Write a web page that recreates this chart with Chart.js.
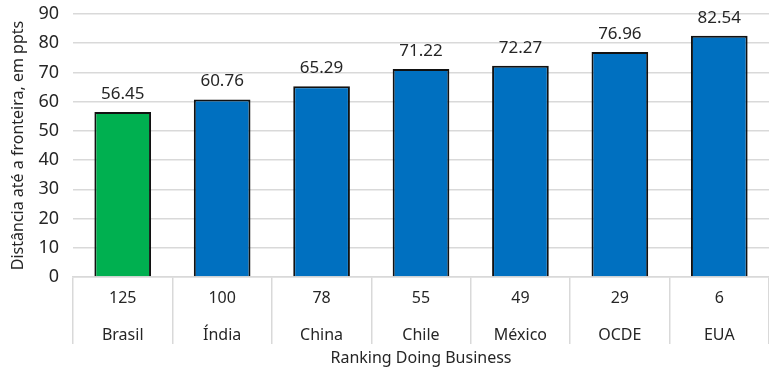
<!DOCTYPE html>
<html>
<head>
<meta charset="utf-8">
<script src="https://cdn.jsdelivr.net/npm/chart.js@4"></script>
<style>
  html, body { margin: 0; padding: 0; background: #fff; }
  #wrap { width: 769px; height: 374px; }
</style>
</head>
<body>
<div id="wrap"><canvas id="dbChart" width="769" height="374"></canvas></div>
<script>
const rankings = ["125", "100", "78", "55", "49", "29", "6"];
const countries = ["Brasil", "Índia", "China", "Chile", "México", "OCDE", "EUA"];
const scores = [56.45, 60.76, 65.29, 71.22, 72.27, 76.96, 82.54];
const barColors = ["#00B050", "#0070C0", "#0070C0", "#0070C0", "#0070C0", "#0070C0", "#0070C0"];
const yTicks = [0, 10, 20, 30, 40, 50, 60, 70, 80, 90];

const FONT = "'Noto Sans', 'DejaVu Sans', sans-serif";

// value labels above each bar
const valueLabels = {
  id: "valueLabels",
  afterDatasetsDraw(chart) {
    const ctx = chart.ctx;
    const meta = chart.getDatasetMeta(0);
    ctx.save();
    ctx.font = "17px " + FONT;
    ctx.fillStyle = "#262626";
    ctx.textAlign = "center";
    ctx.textBaseline = "middle";
    meta.data.forEach((bar, i) => {
      ctx.fillText(scores[i].toFixed(2), bar.x, bar.y - 18);
    });
    ctx.restore();
  }
};

new Chart(document.getElementById("dbChart"), {
  type: "bar",
  data: {
    labels: rankings.map((r, i) => [r, countries[i]]),
    datasets: [{
      data: scores,
      backgroundColor: barColors,
      borderColor: "#111",
      borderWidth: 2,
      categoryPercentage: 1,
      barPercentage: 0.57
    }]
  },
  options: {
    responsive: false,
    animation: false,
    layout: { padding: { top: 14, right: 0, left: 0, bottom: 0 } },
    plugins: {
      legend: { display: false },
      tooltip: { enabled: false }
    },
    scales: {
      x: {
        grid: {
          offset: true,
          drawOnChartArea: false,
          drawTicks: true,
          tickLength: 67,
          color: "#d9d9d9",
          lineWidth: 1.5
        },
        border: { color: "#d9d9d9", width: 1.5 },
        ticks: {
          color: "#262626",
          font: { family: FONT, size: 16, lineHeight: 2.3 },
          padding: -64,
          maxRotation: 0
        },
        title: {
          display: true,
          text: "Ranking Doing Business",
          color: "#262626",
          font: { family: FONT, size: 16 },
          padding: { top: 0, bottom: 6 }
        },
        afterFit(scale) {
          scale.height = 97;
          scale.paddingLeft = 0;
          scale.paddingRight = 0;
        }
      },
      y: {
        min: 0,
        max: 90,
        afterBuildTicks(scale) { scale.ticks = yTicks.map(v => ({ value: v })); },
        grid: { color: "#d9d9d9", lineWidth: 1.5, drawTicks: false },
        border: { display: false },
        ticks: {
          color: "#262626",
          font: { family: FONT, size: 18 },
          padding: 14
        },
        title: {
          display: true,
          text: "Distância até a fronteira, em ppts",
          color: "#262626",
          font: { family: FONT, size: 16 },
          padding: { top: 9, bottom: 0 }
        },
        afterFit(scale) {
          scale.width = 73;
          scale.paddingTop = 0;
          scale.paddingBottom = 0;
        }
      }
    }
  },
  plugins: [valueLabels]
});
</script>
</body>
</html>
